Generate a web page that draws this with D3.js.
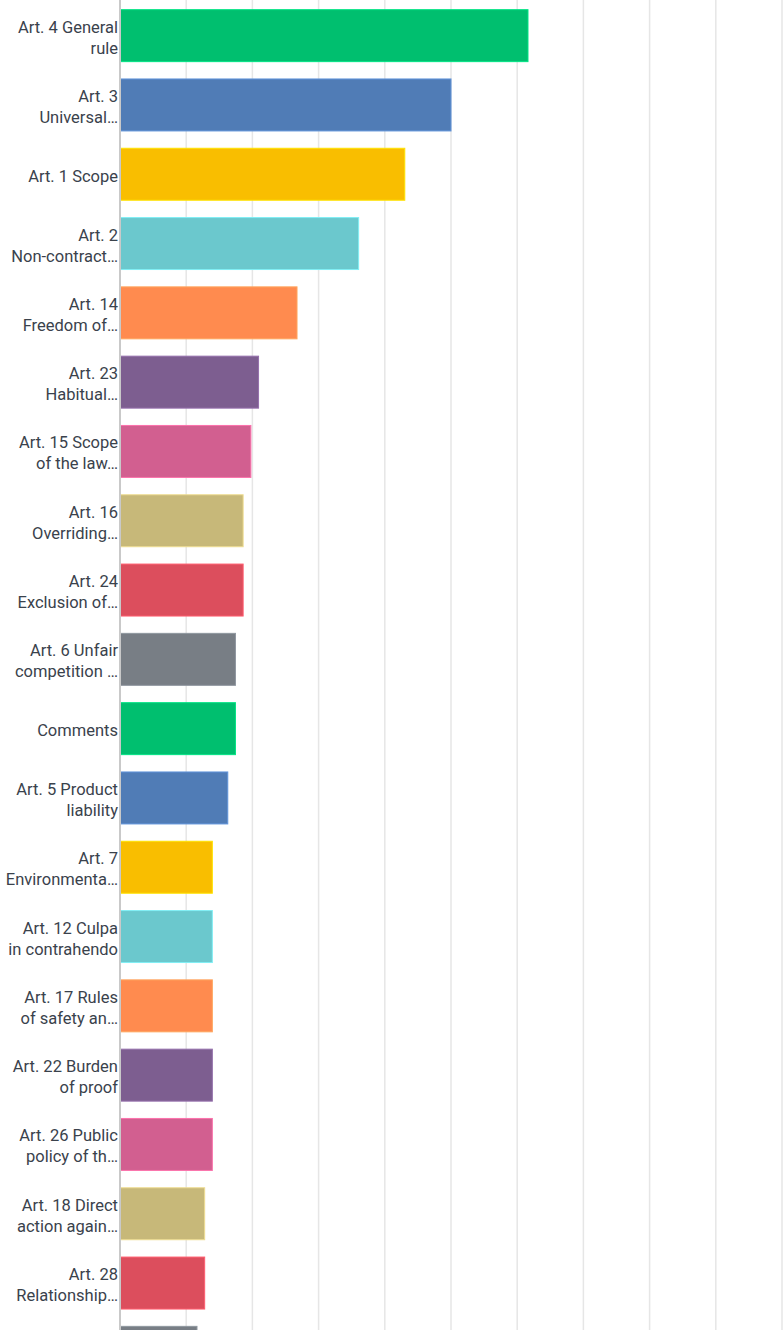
<!DOCTYPE html>
<html>
<head>
<meta charset="utf-8">
<script src="https://cdn.jsdelivr.net/npm/d3@7"></script>
<style>
  html, body { margin: 0; padding: 0; background: #fff; }
  svg { display: block; }
</style>
</head>
<body>
<svg id="chart" width="784" height="1330"></svg>
<script>
// Question labels, already wrapped into lines (line breaks marked with \n)
const categories = [
  "Art. 4 General\nrule",
  "Art. 3\nUniversal…",
  "Art. 1 Scope",
  "Art. 2\nNon-contract…",
  "Art. 14\nFreedom of…",
  "Art. 23\nHabitual…",
  "Art. 15 Scope\nof the law…",
  "Art. 16\nOverriding…",
  "Art. 24\nExclusion of…",
  "Art. 6 Unfair\ncompetition …",
  "Comments",
  "Art. 5 Product\nliability",
  "Art. 7\nEnvironmenta…",
  "Art. 12 Culpa\nin contrahendo",
  "Art. 17 Rules\nof safety an…",
  "Art. 22 Burden\nof proof",
  "Art. 26 Public\npolicy of th…",
  "Art. 18 Direct\naction again…",
  "Art. 28\nRelationship…",
  "Art. 8\nInfringement…"
];

// Share of respondents (%) per item
const values = [
  61.63, 50.00, 43.02, 36.05, 26.74, 20.93, 19.77, 18.60, 18.60, 17.44,
  17.44, 16.28, 13.95, 13.95, 13.95, 13.95, 13.95, 12.79, 12.79, 11.63
];

// Gridline positions on the percentage axis
const xTicks = [0, 10, 20, 30, 40, 50, 60, 70, 80, 90, 100];

// Bar palette, cycling
const palette = [
  "#00bf6f", "#507cb6", "#f9be00", "#6bc8cd", "#ff8b4f",
  "#7d5e90", "#d25f90", "#c7b879", "#dc4e5d", "#787e85"
];

const W = 784, H = 1330;
const svg = d3.select("#chart");
const plotLeft = 120, plotRight = 782;

const x = d3.scaleLinear().domain([0, 100]).range([plotLeft, plotRight]);
const y = d3.scaleBand()
  .domain(categories)
  .range([1, 1 + 69.3 * categories.length])
  .paddingInner(0.25)
  .paddingOuter(0.125);

// vertical gridlines
svg.append("g")
  .selectAll("line")
  .data(xTicks.filter(t => t > 0))
  .join("line")
  .attr("x1", d => x(d)).attr("x2", d => x(d))
  .attr("y1", 0).attr("y2", H)
  .attr("stroke", "#e6e6e6")
  .attr("stroke-width", 1.5);

// bars
svg.append("g")
  .selectAll("rect")
  .data(values)
  .join("rect")
  .attr("x", x(0))
  .attr("y", (d, i) => y(categories[i]))
  .attr("width", d => x(d) - x(0))
  .attr("height", y.bandwidth())
  .attr("fill", (d, i) => palette[i % palette.length])
  .attr("stroke", (d, i) => d3.color(palette[i % palette.length]).brighter(0.5))
  .attr("stroke-width", 1);

// left axis line
svg.append("line")
  .attr("x1", x(0)).attr("x2", x(0))
  .attr("y1", 0).attr("y2", H)
  .attr("stroke", "#c9c9c9")
  .attr("stroke-width", 2);

// category labels (only those whose text block fits in the view)
const lineGap = 21;
const labels = svg.append("g")
  .attr("font-family", "Roboto, 'Open Sans', sans-serif")
  .attr("font-size", 16.5)
  .attr("fill", "#3a424c")
  .attr("text-anchor", "end");

categories.forEach(c => {
  const lines = c.split("\n");
  const cy = y(c) + y.bandwidth() / 2;
  const first = cy + 7.5 - (lines.length - 1) * lineGap / 2;
  const last = first + (lines.length - 1) * lineGap;
  if (last + 5 > H) return;
  const t = labels.append("text");
  lines.forEach((ln, k) => {
    t.append("tspan")
      .attr("x", 118)
      .attr("y", first + k * lineGap)
      .text(ln);
  });
});
</script>
</body>
</html>
